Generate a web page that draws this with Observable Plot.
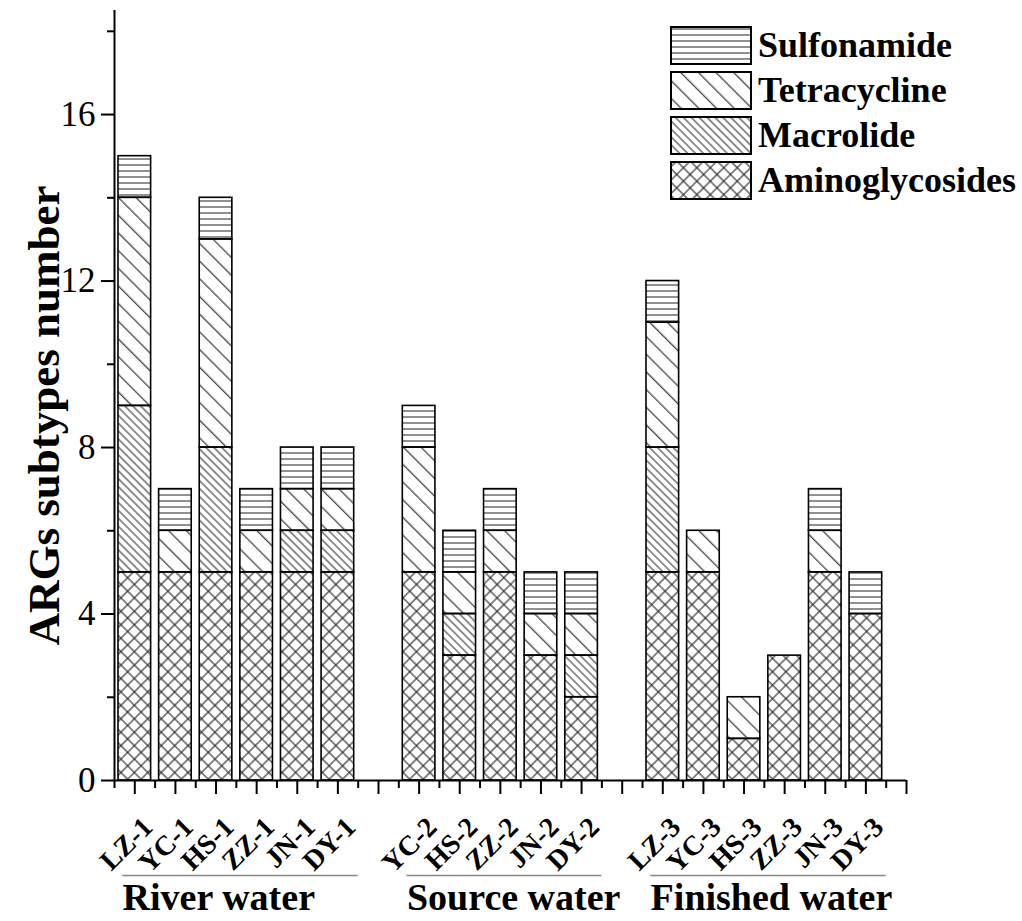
<!DOCTYPE html>
<html>
<head>
<meta charset="utf-8">
<script src="https://cdn.jsdelivr.net/npm/d3@7"></script>
<script src="https://cdn.jsdelivr.net/npm/@observablehq/plot@0.6"></script>
<style>
  html, body { margin: 0; padding: 0; background: white; }
  #wrap { position: relative; width: 1022px; height: 921px; }
  #legend { position: absolute; left: 670px; top: 26px; font-family: "Liberation Serif", "Times New Roman", serif; }
  .lrow { display: flex; align-items: center; height: 39px; margin-bottom: 6px; }
  .lrow span { font-weight: bold; font-size: 36px; margin-left: 6px; line-height: 39px; color: #000; }
</style>
</head>
<body>
<div id="wrap">
  <svg width="0" height="0" style="position:absolute">
    <defs>
      <pattern id="pat-sulf" patternUnits="userSpaceOnUse" width="8" height="6">
        <line x1="0" y1="3" x2="8" y2="3" stroke="#222" stroke-width="1"/>
      </pattern>
      <pattern id="pat-tetra" patternUnits="userSpaceOnUse" width="12.5" height="12.5" patternTransform="rotate(45)">
        <line x1="0" y1="6" x2="12.5" y2="6" stroke="#222" stroke-width="1.1"/>
      </pattern>
      <pattern id="pat-macro" patternUnits="userSpaceOnUse" width="5.6" height="5.6" patternTransform="rotate(45)">
        <line x1="0" y1="2.8" x2="5.6" y2="2.8" stroke="#222" stroke-width="1"/>
      </pattern>
      <pattern id="pat-amino" patternUnits="userSpaceOnUse" width="9.5" height="9.5" patternTransform="rotate(45)">
        <line x1="0" y1="4.75" x2="9.5" y2="4.75" stroke="#222" stroke-width="1.1"/>
        <line x1="4.75" y1="0" x2="4.75" y2="9.5" stroke="#222" stroke-width="1.1"/>
      </pattern>
    </defs>
  </svg>
  <div id="chart"></div>
  <div id="legend"></div>
</div>
<script>
// ---- data ----
const sites = ["LZ-1","YC-1","HS-1","ZZ-1","JN-1","DY-1",
               "YC-2","HS-2","ZZ-2","JN-2","DY-2",
               "LZ-3","YC-3","HS-3","ZZ-3","JN-3","DY-3"];
const groupNames = ["River water","Source water","Finished water"];
const groupSizes = [6, 5, 6];
const categories = ["Aminoglycosides","Macrolide","Tetracycline","Sulfonamide"]; // bottom -> top
const legendOrder = ["Sulfonamide","Tetracycline","Macrolide","Aminoglycosides"];
const aminoglycosides = [5,5,5,5,5,5, 5,3,5,3,2, 5,5,1,3,5,4];
const macrolide       = [4,0,3,0,1,1, 0,1,0,0,1, 3,0,0,0,0,0];
const tetracycline    = [5,1,5,1,1,1, 3,1,1,1,1, 3,1,1,0,1,0];
const sulfonamide     = [1,1,1,1,1,1, 1,1,1,1,1, 1,0,0,0,1,1];
const yTicks = [0,4,8,12,16];
const yMinorTicks = [2,6,10,14,18];
const yLabel = "ARGs subtypes number";

// ---- derived tables ----
const seriesValues = {Aminoglycosides: aminoglycosides, Macrolide: macrolide, Tetracycline: tetracycline, Sulfonamide: sulfonamide};
const patternUrl = {Aminoglycosides: "url(#pat-amino)", Macrolide: "url(#pat-macro)", Tetracycline: "url(#pat-tetra)", Sulfonamide: "url(#pat-sulf)"};

const siteGroup = [];
groupSizes.forEach((n, g) => { for (let k = 0; k < n; k++) siteGroup.push(g); });
const siteSlot = sites.map((s, i) => i + siteGroup[i]); // one empty slot between groups
const nSlots = d3.max(siteSlot) + 1;
const xMax = nSlots + 0.5;

const rows = [];
sites.forEach((site, i) => {
  let base = 0;
  categories.forEach(c => {
    const v = seriesValues[c][i];
    rows.push({site, slot: siteSlot[i], category: c, value: v, y1: base, y2: base + v});
    base += v;
  });
});

const groups = groupNames.map((name, g) => {
  const slots = siteSlot.filter((s, i) => siteGroup[i] === g);
  return {name, start: d3.min(slots), end: d3.max(slots) + 1};
});

const centers = d3.range(0.5, xMax + 0.01, 1);
const bounds = d3.range(0, xMax, 1);

const serif = "'Liberation Serif', 'Times New Roman', serif";

const chart = Plot.plot({
  width: 1022,
  height: 921,
  marginLeft: 114,
  marginRight: 116,
  marginTop: 10,
  marginBottom: 141,
  style: {fontFamily: serif, background: "white", color: "black"},
  x: {domain: [0, xMax]},
  y: {domain: [0, 18.5]},
  marks: [
    ...categories.map(c => Plot.rect(rows.filter(d => d.category === c && d.value > 0), {
      x1: d => d.slot, x2: d => d.slot + 1, y1: "y1", y2: "y2",
      insetLeft: 4, insetRight: 4,
      fill: patternUrl[c], stroke: "black", strokeWidth: 1.6
    })),
    Plot.ruleX([0], {stroke: "black", strokeWidth: 2}),
    Plot.ruleY([0], {stroke: "black", strokeWidth: 2}),
    Plot.axisY(yTicks, {tickSize: 13, tickPadding: 6, fontSize: 35, label: null, strokeWidth: 2, tickFormat: d => String(d)}),
    Plot.axisY(yMinorTicks, {tickSize: 7, label: null, strokeWidth: 2, tickFormat: () => ""}),
    Plot.axisX(centers, {tickSize: 14, label: null, strokeWidth: 2, tickFormat: () => ""}),
    Plot.axisX(bounds, {tickSize: 8, label: null, strokeWidth: 2, tickFormat: () => ""}),
    Plot.text(sites, {
      x: (d, i) => siteSlot[i] + 0.5, y: () => 0, text: d => d,
      rotate: -45, textAnchor: "end", dx: 13, dy: 42,
      fontSize: 28, fontWeight: "bold", fill: "black"
    }),
    Plot.ruleY(groups, {y: () => 0, x1: d => d.start + 0.2, x2: d => d.end, dy: 95, stroke: "#888", strokeWidth: 1.5}),
    Plot.text(groups, {
      x: d => d.start + 0.2, y: () => 0, text: "name", textAnchor: "start",
      dy: 117, fontSize: 38, fontWeight: "bold", fill: "black"
    }),
    Plot.text([yLabel], {
      frameAnchor: "left", textAnchor: "middle", rotate: -90, dx: -70, dy: 20,
      fontSize: 45, fontWeight: "bold", fill: "black"
    })
  ]
});
document.getElementById("chart").appendChild(chart);

// ---- legend ----
const legend = document.getElementById("legend");
legendOrder.forEach(c => {
  const row = document.createElement("div");
  row.className = "lrow";
  row.innerHTML = `<svg width="82" height="39"><rect x="1" y="1" width="80" height="37" fill="${patternUrl[c]}" stroke="black" stroke-width="2"/></svg><span>${c}</span>`;
  legend.appendChild(row);
});
</script>
</body>
</html>
